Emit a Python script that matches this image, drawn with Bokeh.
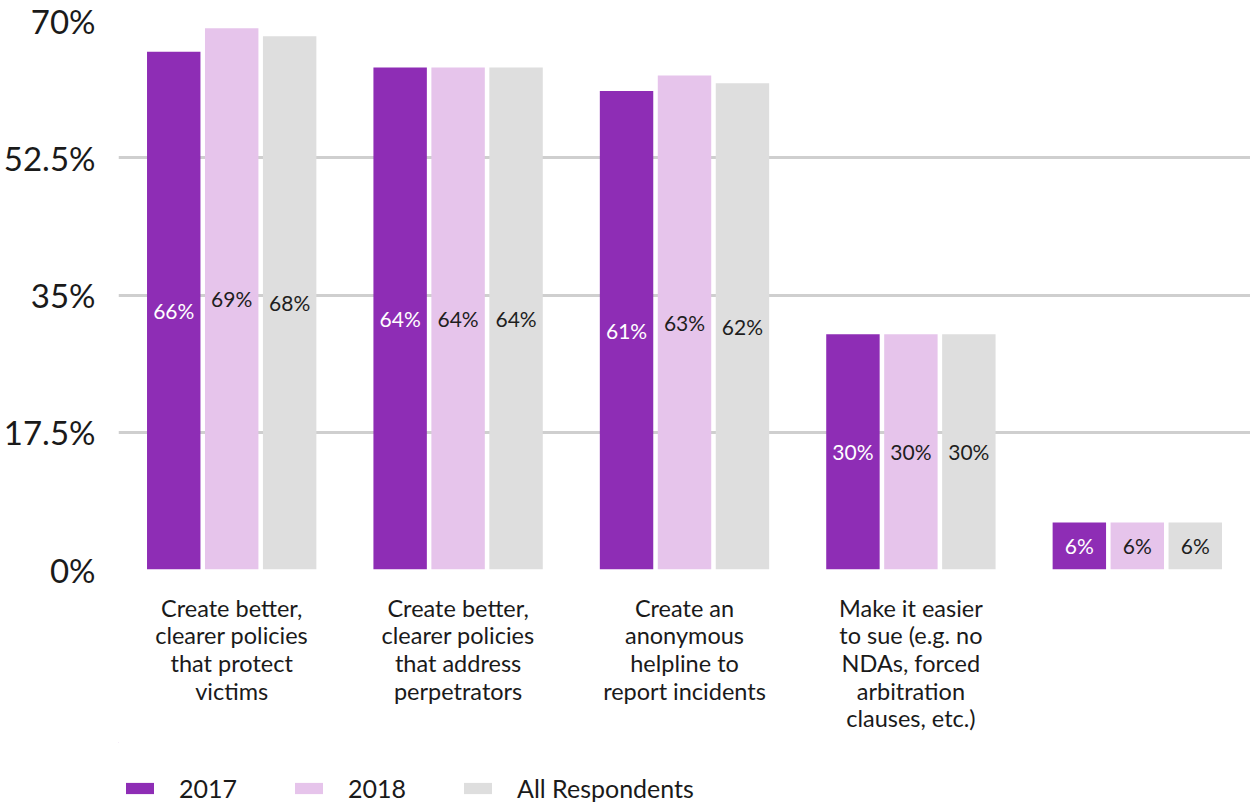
from bokeh.plotting import figure
from bokeh.models import ColumnDataSource, FactorRange, Legend, LegendItem, FixedTicker
from bokeh.layouts import column
from bokeh.transform import dodge
from bokeh.core.properties import value
from bokeh.embed import file_html
from bokeh.resources import INLINE

categories = [
    "Create better,\nclearer policies\nthat protect\nvictims",
    "Create better,\nclearer policies\nthat address\nperpetrators",
    "Create an\nanonymous\nhelpline to\nreport incidents",
    "Make it easier\nto sue (e.g. no\nNDAs, forced\narbitration\nclauses, etc.)",
    " ",
]
series_names = ["2017", "2018", "All Respondents"]
v2017 = [66, 64, 61, 30, 6]
v2018 = [69, 64, 63, 30, 6]
vall = [68, 64, 62, 30, 6]
y_ticks = [0, 17.5, 35, 52.5, 70]
y_tick_labels = ["0%", "17.5%", "35%", "52.5%", "70%"]

colors = ["#8E2DB5", "#E6C4EB", "#DEDEDE"]
label_colors = ["#FFFFFF", "#1E1E1E", "#1E1E1E"]
FONT = "Lato"
W = 1250

src = ColumnDataSource(data=dict(
    cat=categories,
    s0=v2017, s1=v2018, s2=vall,
    h0=[v / 2 for v in v2017], h1=[v / 2 for v in v2018], h2=[v / 2 for v in vall],
    t0=[f"{v}%" for v in v2017], t1=[f"{v}%" for v in v2018], t2=[f"{v}%" for v in vall],
))

p = figure(
    width=W, height=742,
    x_range=FactorRange(factors=categories, range_padding=0),
    y_range=(0, 70),
    output_backend="svg", toolbar_location=None,
    min_border_left=118, min_border_right=0, min_border_top=20, min_border_bottom=173,
)

offset = 0.256
bw = 0.236
for i in range(3):
    p.vbar(x=dodge("cat", (i - 1) * offset, range=p.x_range), top=f"s{i}", width=bw,
           source=src, fill_color=colors[i], line_color=None)
    p.text(x=dodge("cat", (i - 1) * offset, range=p.x_range), y=f"h{i}", text=f"t{i}",
           source=src, text_align="center", text_baseline="middle",
           text_font=value(FONT), text_font_size="21px", text_color=label_colors[i])

p.outline_line_color = None
p.xgrid.grid_line_color = None
p.ygrid.grid_line_color = "#CFCFCF"
p.ygrid.grid_line_width = 3
p.ygrid.ticker = FixedTicker(ticks=y_ticks)

p.yaxis.ticker = FixedTicker(ticks=y_ticks)
p.yaxis.major_label_overrides = {t: l for t, l in zip(y_ticks, y_tick_labels)}
p.yaxis.major_label_text_font = FONT
p.yaxis.major_label_text_font_size = "33px"
p.yaxis.major_label_text_color = "#1A1A1A"
p.yaxis.major_label_standoff = 23

p.xaxis.major_label_text_font = FONT
p.xaxis.major_label_text_font_size = "23.5px"
p.xaxis.major_label_text_color = "#1A1A1A"
p.xaxis.major_label_text_line_height = 0.99
p.xaxis.major_label_standoff = 24

for ax in (p.xaxis, p.yaxis):
    ax.axis_line_color = None
    ax.major_tick_line_color = None
    ax.minor_tick_line_color = None
    ax.major_tick_in = 0
    ax.major_tick_out = 0

# legend strip below the chart (its renderers sit outside the visible ranges)
lg = figure(width=W, height=60, x_range=(0, 1), y_range=(0, 1),
            output_backend="svg", toolbar_location=None,
            min_border_left=0, min_border_right=0, min_border_top=0, min_border_bottom=0)
lg.axis.visible = False
lg.grid.visible = False
lg.outline_line_color = None
items = []
for i in range(3):
    r = lg.vbar(x=[-5], bottom=[5], top=[6], width=0.1, fill_color=colors[i], line_color=None)
    items.append(LegendItem(label=series_names[i], renderers=[r]))
legend = Legend(
    items=items,
    orientation="horizontal",
    location=(4, -1),
    glyph_width=35, glyph_height=14,
    label_standoff=22, label_width=92, spacing=20,
    padding=0, margin=0,
    label_text_font=FONT, label_text_font_size="25px", label_text_color="#1A1A1A",
    background_fill_alpha=0, border_line_color=None,
)
lg.add_layout(legend, "center")

layout = column(p, lg, spacing=0)

with open("out.html", "w") as f:
    f.write(file_html(layout, INLINE))
